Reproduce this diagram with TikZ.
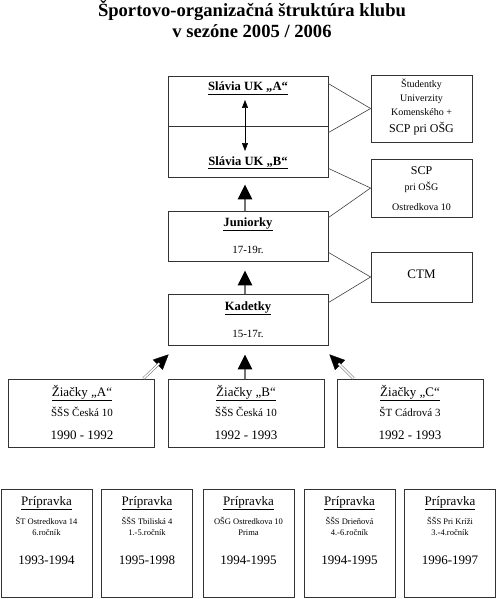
\documentclass[tikz,border=0pt]{standalone}
\usepackage{fontspec}
\setmainfont{Liberation Serif}
\usetikzlibrary{arrows.meta,calc}
\begin{document}
\begin{tikzpicture}[x=1pt,y=-1pt,
  box/.style={draw=black!80, line width=0.8pt, inner sep=0pt, fill=none},
  tx/.style={anchor=base, inner sep=0pt},
  ttl/.style={tx, font=\fontsize{18.6}{20}\selectfont\bfseries},
  hd/.style={tx, font=\fontsize{12.6}{14}\selectfont\bfseries},
  md/.style={tx, font=\fontsize{11}{13}\selectfont},
  sm/.style={tx, font=\fontsize{10}{12}\selectfont},
  big/.style={tx, font=\fontsize{13}{15}\selectfont},
  xs/.style={tx, font=\fontsize{8.5}{10}\selectfont},
  link/.style={draw=black!75, line width=0.6pt},
  thickarrow/.style={draw=black!55, line width=2.8pt, -{Triangle[width=14pt,length=15pt,color=black]}},
  dblarrowhead/.style={draw=black, line width=0.3pt, -{Triangle[width=14pt,length=15pt]}},
  dblstem/.style={draw=black!60, line width=0.5pt, double=white, double distance=1.6pt, shorten >=13pt},
  biarrow/.style={draw=black, line width=0.6pt, {Triangle[width=6pt,length=8pt]}-{Triangle[width=6pt,length=8pt]}}
]
\useasboundingbox (0,0) rectangle (497,599);

% title
\node[ttl] (title1) at (252,17) {Športovo-organizačná štruktúra klubu};
\node[ttl] (title2) at (252,38) {v sezóne 2005 / 2006};

% central column
\node[box, minimum width=160pt, minimum height=50pt] (slaviaA) at (248,101) {};
\node[box, minimum width=160pt, minimum height=51pt] (slaviaB) at (248,151.5) {};
\node[box, minimum width=160pt, minimum height=50pt] (juniorky) at (248,236) {};
\node[box, minimum width=160pt, minimum height=51pt] (kadetky) at (248,319.5) {};

\node[hd] (tA) at (248,91) {\underline{Slávia UK „A“}};
\node[hd] (tB) at (248,165) {\underline{Slávia UK „B“}};
\node[hd] (tJ) at (248,226) {\underline{Juniorky}};
\node[md] (tJ2) at (248,253) {17-19r.};
\node[hd] (tK) at (248,310) {\underline{Kadetky}};
\node[md] (tK2) at (248,337) {15-17r.};

% right column
\node[box, minimum width=101pt, minimum height=67pt] (stud) at (421.5,108.5) {};
\node[box, minimum width=101pt, minimum height=58pt] (scp) at (421.5,188) {};
\node[box, minimum width=101pt, minimum height=50pt] (ctm) at (421.5,277) {};

\node[sm] (s1) at (421.5,88) {Študentky};
\node[sm] (s2) at (421.5,102) {Univerzity};
\node[sm] (s3) at (421.5,116) {Komenského +};
\node[tx, font=\fontsize{12}{14}\selectfont] (s4) at (421.5,132) {SCP pri OŠG};
\node[tx, font=\fontsize{12}{14}\selectfont] (c1) at (421.5,174) {SCP};
\node[sm] (c2) at (421.5,190) {pri OŠG};
\node[sm] (c3) at (421.5,210) {Ostredkova 10};
\node[tx, font=\fontsize{13}{15}\selectfont] (m1) at (421.5,278) {CTM};

% links to right column
\draw[link] ([yshift=-8pt]slaviaA.north east) -- (stud.west);
\draw[link] ([yshift=-7pt]slaviaB.north east) -- (stud.west);
\draw[link] ([yshift=9pt]slaviaB.south east) -- (scp.west);
\draw[link] ([yshift=-7pt]juniorky.north east) -- (scp.west);
\draw[link] ([yshift=9pt]juniorky.south east) -- (ctm.west);
\draw[link] ([yshift=-9pt]kadetky.north east) -- (ctm.west);

% vertical arrows
\coordinate (bt) at (245,100);
\coordinate (bb) at (245,151);
\draw[biarrow] (bt) -- (bb);
\draw[thickarrow, shorten >=7pt] ([xshift=-3pt]juniorky.north) -- ([xshift=-3pt]slaviaB.south);
\draw[thickarrow, shorten >=9pt] ([xshift=-3pt]kadetky.north) -- ([xshift=-3pt]juniorky.south);

% Ziacky row
\node[box, minimum width=146pt, minimum height=68pt] (zA) at (81,413) {};
\node[box, minimum width=156pt, minimum height=68pt] (zB) at (246,413) {};
\node[box, minimum width=146pt, minimum height=68pt] (zC) at (410,413) {};

\node[big] (za1) at (82,396) {\underline{Žiačky „A“}};
\node[md] (za2) at (82,416) {ŠŠS Česká 10};
\node[big] (za3) at (82,439) {1990 - 1992};
\node[big] (zb1) at (246,396) {\underline{Žiačky „B“}};
\node[md] (zb2) at (246,416) {ŠŠS Česká 10};
\node[big] (zb3) at (246,439) {1992 - 1993};
\node[big] (zc1) at (410,396) {\underline{Žiačky „C“}};
\node[md] (zc2) at (410,416) {ŠT Cádrová 3};
\node[big] (zc3) at (410,439) {1992 - 1993};

\draw[thickarrow, shorten >=9pt] ([xshift=-1pt]zB.north) -- ([xshift=-1pt]zB.north |- kadetky.south);
\coordinate (aS) at ([xshift=-11pt]zA.north east);
\coordinate (aE) at ([xshift=1pt,yshift=-9pt]kadetky.south west);
\draw[dblarrowhead] (aS) -- (aE);
\draw[dblstem] (aS) -- (aE);
\coordinate (cS) at ([xshift=17pt]zC.north west);
\coordinate (cE) at ([xshift=1pt,yshift=-9pt]kadetky.south east);
\draw[dblarrowhead] (cS) -- (cE);
\draw[dblstem] (cS) -- (cE);

% Pripravka row
\foreach \i/\x/\a/\b/\y in {1/46.5/ŠT Ostredkova 14/6.ročník/1993-1994,
                            2/147/ŠŠS Tbiliská 4/1.-5.ročník/1995-1998,
                            3/248.5/OŠG Ostredkova 10/Prima/1994-1995,
                            4/349.5/ŠŠS Drieňová/4.-6.ročník/1994-1995,
                            5/450/ŠŠS Pri Kríži/3.-4.ročník/1996-1997} {
  \node[box, minimum width=91pt, minimum height=108pt] (p\i) at (\x,543) {};
  \node[big] (p\i t) at (\x,505) {\underline{Prípravka}};
  \node[xs] (p\i a) at (\x,524) {\a};
  \node[xs] (p\i b) at (\x,535) {\b};
  \node[big] (p\i y) at (\x,564) {\y};
}
\end{tikzpicture}
\end{document}
